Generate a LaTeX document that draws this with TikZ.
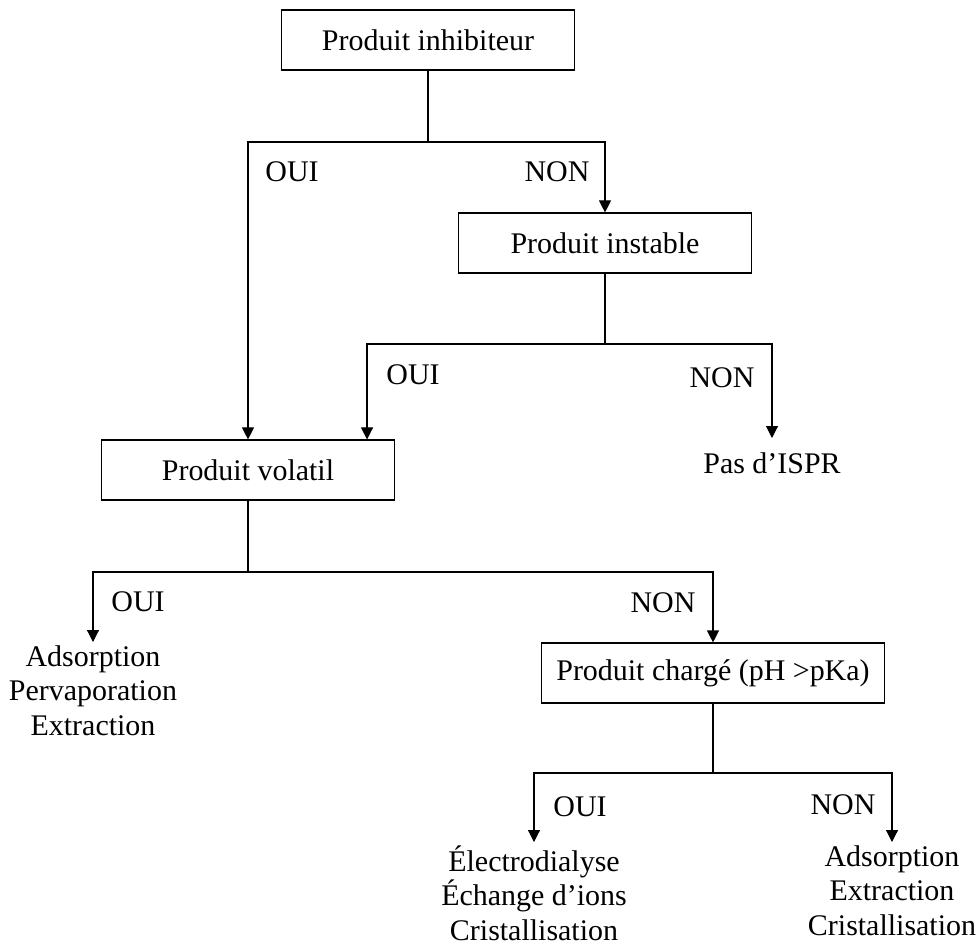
\documentclass[tikz,border=0pt]{standalone}
\usepackage{fontspec}
\setmainfont{Liberation Serif}
\usepackage{tikz}
\usetikzlibrary{shapes,positioning,arrows.meta}

\begin{document}
\begin{tikzpicture}[x=0.025cm, y=-0.025cm, line width=0.8pt,
        font=\fontsize{21.3}{24.6}\selectfont,
        box/.style={rectangle, draw, minimum width=7.33cm, minimum height=1.5cm, inner xsep=0.375cm},
        result/.style={align=center, anchor=north, inner sep=0.075cm},
        arr/.style={-{Triangle[length=0.3cm, width=0.3cm]}}]
        \useasboundingbox (0,0) rectangle (980,949);

        % decision boxes
        \node [box] (inhib) at (428,40) {Produit inhibiteur};
        \node [box] (instable) at (605,243) {Produit instable};
        \node [box] (volatil) at (248,470) {Produit volatil};
        \node [box] (charge) at (713,673) {Produit chargé (pH >pKa)};

        % results
        \node [result, inner ysep=0.35cm] (ispr) at (772,438) {Pas d’ISPR};
        \node [result] (resvol) at (93,642) {Adsorption\\Pervaporation\\Extraction};
        \node [result] (resoui) at (534,842) {Électrodialyse\\Échange d’ions\\Cristallisation};
        \node [result] (resnon) at (892,842) {Adsorption\\Extraction\\Cristallisation};

        % junctions
        \coordinate (j1) at (428,142);
        \coordinate (j2) at (605,344);
        \coordinate (j3) at (248,572);
        \coordinate (j4) at (713,773);

        \draw (inhib.south) -- (j1);
        \draw [arr] (j1) -| (volatil.north);
        \draw [arr] (j1) -| (instable.north);
        \draw (instable.south) -- (j2);
        \draw [arr] (j2) -| ([xshift=2.975cm]volatil.north);
        \draw [arr] (j2) -| (ispr.north);
        \draw (volatil.south) -- (j3);
        \draw [arr] (j3) -| (resvol.north);
        \draw [arr] (j3) -| (charge.north);
        \draw (charge.south) -- (j4);
        \draw [arr] (j4) -| (resoui.north);
        \draw [arr] (j4) -| (resnon.north);

        % labels
        \node (oui1) at (292,172) {OUI};
        \node (non1) at (557,172) {NON};
        \node (oui2) at (413,375) {OUI};
        \node (non2) at (722,378) {NON};
        \node (oui3) at (138,602) {OUI};
        \node (non3) at (663,603) {NON};
        \node (oui4) at (580,807) {OUI};
        \node (non4) at (843,805) {NON};
    \end{tikzpicture}
\end{document}
